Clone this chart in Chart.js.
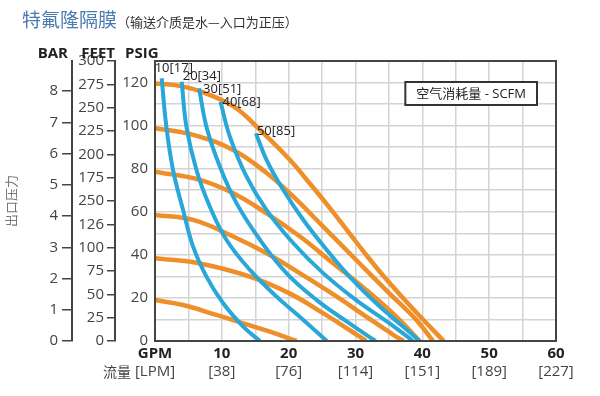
<!DOCTYPE html>
<html>
<head>
<meta charset="utf-8">
<title>特氟隆隔膜</title>
<script src="https://cdn.jsdelivr.net/npm/chart.js@4.4.1/dist/chart.umd.min.js"></script>
<style>
  body { margin: 0; background: #fff; }
  #wrap { position: relative; width: 600px; height: 396px; background: #fff; }
  #pumpChart { position: absolute; left: 0; top: 0; }
  .title {
    position: absolute; left: 22px; top: 9px;
    font-family: "Noto Sans CJK SC", sans-serif; font-size: 19px; line-height: 1;
    color: #4a7bb0; white-space: nowrap;
  }
  .title span { font-size: 13px; color: #333; }
</style>
</head>
<body>
<div id="wrap">
  <canvas id="pumpChart" width="600" height="396"></canvas>
  <div class="title">特氟隆隔膜<span>（输送介质是水—入口为正压）</span></div>
</div>
<script>
// Curves, points are [GPM, PSIG]

// discharge pressure at each air inlet pressure (orange)
const orange120 = [[0,119.5],[3,118.8],[6.7,116],[11.7,109],[15.7,98],[20.2,84],[23.2,73],[26.2,61.6],[29.1,50],[31.6,40],[34.1,30.5],[37.1,20],[40.1,10],[43.2,0]];
const orange100 = [[0,98.8],[5.7,95.7],[11.7,88.7],[16.7,78],[20.7,67],[25.2,53],[30.1,37.6],[35.1,22],[39.1,9.8],[41.6,0]];
const orange80 = [[0,78.6],[6.7,74.8],[11.7,68.6],[16.7,59.3],[21.7,48.5],[26.7,36],[31.6,23.7],[36.1,11.3],[39.6,0]];
const orange60 = [[0,58.5],[5.7,56.2],[11.7,48.5],[16.7,40.7],[21.7,31.4],[27.2,20.6],[31.6,11.3],[35.6,3],[37.2,0]];
const orange40 = [[0,38.4],[6.7,36],[14.2,29.9],[20.2,22],[25.2,12.8],[29.1,5.1],[31.6,0]];
const orange20 = [[0,19],[4.2,16.7],[9.2,12.1],[13.2,8.2],[17.2,4.3],[21.2,0]];

// air consumption, SCFM[Nm3/h] (blue)
const air10 = [[1,122],[1.7,99.5],[2.7,79.4],[4.2,60.8],[5.7,43.8],[7.7,29.9],[10.2,17.5],[13.2,6.7],[15.7,0]];
const air20 = [[4,120.4],[4.7,99.5],[6.2,79.4],[8.2,62.4],[10.7,46.9],[14.2,33],[18.2,20.6],[22.2,9.8],[25.7,0]];
const air30 = [[6.6,117.3],[7.7,99.5],[9.7,81],[12.2,64],[15.7,47],[19.7,31.4],[24.2,19],[29.1,8.2],[33,0]];
const air40 = [[9.8,111.1],[11.2,94.9],[13.7,76.3],[16.7,60.8],[20.7,45.4],[25.2,31.4],[30.1,19],[35.1,8.2],[38.6,0]];
const air50 = [[15.1,96.4],[16.7,84],[19.2,70.1],[22.2,56.2],[25.7,42.3],[29.1,29.9],[33.1,17.5],[37.1,6.7],[39.6,0]];
const airLabels = ['10[17]', '20[34]', '30[51]', '40[68]', '50[85]'];

// axis labels
const gpmLabels = ['GPM', '10', '20', '30', '40', '50', '60'];
const lpmLabels = ['[LPM]', '[38]', '[76]', '[114]', '[151]', '[189]', '[227]'];
const psigLabels = [0, 20, 40, 60, 80, 100, 120];
const feetLabels = ['0', '25', '50', '75', '100', '126', '250', '175', '200', '225', '250', '275', '300'];
const barLabels = ['0', '1', '2', '3', '4', '5', '6', '7', '8'];

const PSIG_MAX = 130;
const FT_PER_PSI = 2.31;
const PSI_PER_BAR = 14.504;

const ORANGE = '#ee8f2a';
const BLUE = '#2aa7d9';
const AXIS = '#444';
const GRID = '#d4d4d4';
const FONT = '"Open Sans", "Noto Sans CJK SC", sans-serif';

const orangeCurves = [orange120, orange100, orange80, orange60, orange40, orange20];
const airCurves = [air10, air20, air30, air40, air50];

// label nudges (px) so the tags sit like the original
const airLabelShift = [[-7, -10], [1, -5], [4, 1], [2, 1], [1, -2]];

function toDataset(points, color, width, order) {
  return {
    data: points.map(([x, y]) => ({ x: x, y: y })),
    borderColor: color,
    borderWidth: width,
    pointRadius: 0,
    fill: false,
    tension: 0.4,
    order: order,
    xAxisID: 'x',
    yAxisID: 'y',
  };
}

// Headings, frame, SCFM box and curve labels
const pumpDecor = {
  id: 'pumpDecor',
  afterDraw(chart) {
    const { ctx, chartArea: a, scales } = chart;
    ctx.save();

    ctx.strokeStyle = AXIS;
    ctx.lineWidth = 2;
    ctx.strokeRect(a.left, a.top, a.right - a.left, a.bottom - a.top);

    ctx.font = 'bold 15px ' + FONT;
    ctx.fillStyle = '#222';
    ctx.textBaseline = 'middle';
    ctx.textAlign = 'right';
    ctx.fillText('BAR', scales.bar.right - 4, a.top - 7);
    ctx.fillText('FEET', scales.feet.right, a.top - 7);
    ctx.textAlign = 'left';
    ctx.fillText('PSIG', scales.feet.right + 10, a.top - 7);

    // legend box
    const boxText = '空气消耗量 - SCFM';
    ctx.font = '13px ' + FONT;
    const w = ctx.measureText(boxText).width + 22;
    const h = 23;
    const bx = a.right - 19 - w;
    const by = a.top + 21;
    ctx.fillStyle = '#fff';
    ctx.fillRect(bx, by, w, h);
    ctx.lineWidth = 2;
    ctx.strokeStyle = '#333';
    ctx.strokeRect(bx, by, w, h);
    ctx.fillStyle = '#222';
    ctx.textAlign = 'center';
    ctx.fillText(boxText, bx + w / 2, by + h / 2 + 1);

    // labels at the top of each air curve
    ctx.textAlign = 'left';
    airCurves.forEach((pts, i) => {
      const px = scales.x.getPixelForValue(pts[0][0]);
      const py = scales.y.getPixelForValue(pts[0][1]);
      ctx.fillText(airLabels[i], px + airLabelShift[i][0], py + airLabelShift[i][1]);
    });

    ctx.font = '14px "Noto Sans CJK SC", sans-serif';
    ctx.fillStyle = '#444';
    ctx.textAlign = 'right';
    ctx.fillText('流量', scales.x.getPixelForValue(0) - 24, scales.lpm.top + 9);

    ctx.restore();
  },
};

const ctx = document.getElementById('pumpChart').getContext('2d');

new Chart(ctx, {
  type: 'line',
  data: {
    datasets: [
      ...airCurves.map((pts) => toDataset(pts, BLUE, 4, 1)),
      ...orangeCurves.map((pts) => toDataset(pts, ORANGE, 4.5, 2)),
    ],
  },
  options: {
    responsive: false,
    animation: false,
    events: [],
    layout: { padding: { top: 61, right: 44, bottom: 13, left: 0 } },
    plugins: {
      legend: { display: false },
      tooltip: { enabled: false },
    },
    scales: {
      x: {
        type: 'linear',
        position: 'bottom',
        min: 0,
        max: 60,
        weight: 0,
        afterFit: (scale) => { scale.height = 22; },
        ticks: {
          stepSize: 5,
          maxRotation: 0,
          autoSkip: false,
          padding: 4,
          color: '#222',
          font: { family: FONT, size: 15, weight: 'bold' },
          callback: (value) => (value % 10 === 0 ? gpmLabels[value / 10] : ''),
        },
        grid: { color: GRID, lineWidth: 1.5, drawTicks: false },
        border: { display: true, color: AXIS, width: 2 },
      },
      lpm: {
        type: 'linear',
        position: 'bottom',
        min: 0,
        max: 60,
        weight: 1,
        afterFit: (scale) => { scale.height = 20; },
        ticks: {
          stepSize: 10,
          maxRotation: 0,
          autoSkip: false,
          padding: 0,
          color: '#444',
          font: { family: FONT, size: 15 },
          callback: (value) => lpmLabels[value / 10],
        },
        grid: { display: false, drawTicks: false },
        border: { display: false },
      },
      y: {
        type: 'linear',
        position: 'left',
        min: 0,
        max: PSIG_MAX,
        weight: 0,
        afterFit: (scale) => { scale.width = 40; },
        ticks: {
          stepSize: 10,
          autoSkip: false,
          padding: 7,
          color: '#444',
          font: { family: FONT, size: 15 },
          callback: (value) => (psigLabels.includes(value) ? value : ''),
        },
        grid: { color: GRID, lineWidth: 1.5, drawTicks: false },
        border: { display: true, color: AXIS, width: 2 },
      },
      feet: {
        type: 'linear',
        position: 'left',
        min: 0,
        max: PSIG_MAX * FT_PER_PSI,
        weight: 1,
        afterFit: (scale) => { scale.width = 43; },
        ticks: {
          stepSize: 25,
          includeBounds: false,
          autoSkip: false,
          padding: 3,
          color: '#444',
          font: { family: FONT, size: 15 },
          callback: (value, index) => feetLabels[index],
        },
        grid: { drawOnChartArea: false, drawTicks: true, tickLength: 8, color: AXIS, lineWidth: 1.5 },
        border: { display: true, color: AXIS, width: 2 },
      },
      bar: {
        type: 'linear',
        position: 'left',
        min: 0,
        max: PSIG_MAX / PSI_PER_BAR,
        weight: 2,
        afterFit: (scale) => { scale.width = 72; },
        title: {
          display: true,
          text: '出口压力',
          color: '#777',
          padding: { top: 3, bottom: 0 },
          font: { family: '"Noto Sans CJK SC", sans-serif', size: 13 },
        },
        ticks: {
          stepSize: 1,
          includeBounds: false,
          autoSkip: false,
          padding: 4,
          color: '#444',
          font: { family: FONT, size: 15 },
          callback: (value, index) => barLabels[index],
        },
        grid: { drawOnChartArea: false, drawTicks: true, tickLength: 10, color: AXIS, lineWidth: 1.5 },
        border: { display: true, color: AXIS, width: 2 },
      },
    },
  },
  plugins: [pumpDecor],
});
</script>
</body>
</html>
